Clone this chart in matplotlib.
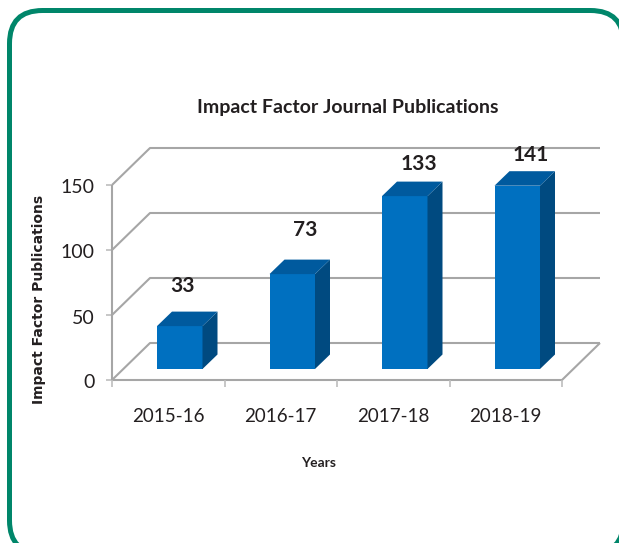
import matplotlib
matplotlib.use('Agg')
import matplotlib.pyplot as plt
from matplotlib.patches import FancyBboxPatch, Polygon
from matplotlib.transforms import ScaledTranslation

categories = ['2015-16', '2016-17', '2017-18', '2018-19']
values = [33, 73, 133, 141]
y_ticks = [0, 50, 100, 150]
title = 'Impact Factor Journal Publications'
x_label = 'Years'
y_label = 'Impact Factor Publications'

W, H = 619, 543
GRID = '#a6a6a6'
TEXT = '#231f20'
FONT = 'Lato'

fig = plt.figure(figsize=(W / 100, H / 100), dpi=100)

# background axes in pixels, just for the green frame
bg = fig.add_axes([0, 0, 1, 1])
bg.set_xlim(0, W)
bg.set_ylim(H, 0)
bg.axis('off')
bg.add_patch(FancyBboxPatch((9.5, 10.5), 614, 543, boxstyle='round,pad=0,rounding_size=33',
                            fc='white', ec='#00866a', lw=3.6))

# main axes sit on the front plane of the 3d box
left, right, bottom, top = 112, 562, 380, 185
ax = fig.add_axes([left / W, 1 - bottom / H, (right - left) / W, (bottom - top) / H])
ax.set_xlim(-0.5, 3.5)
ax.set_ylim(0, 150)
ax.patch.set_alpha(0)
for s in ax.spines.values():
    s.set_visible(False)

px_x = 4 / (right - left)
px_y = 150 / (bottom - top)
wall_dx, wall_dy = 38 * px_x, 37 * px_y   # depth of the whole box
bar_dx, bar_dy = 15 * px_x, 14.5 * px_y   # depth of a bar
off_x, off_y = 45 * px_x, 11 * px_y       # bar front face offset from front plane
bar_w = 45.5 * px_x

line = dict(color=GRID, lw=1.5, clip_on=False, solid_capstyle='butt')
thin = dict(color='#bdbdbd', lw=1.2, clip_on=False, solid_capstyle='butt')

# walls and grid
for t in y_ticks:
    ax.plot([-0.5, -0.5 + wall_dx, 3.5 + wall_dx], [t, t + wall_dy, t + wall_dy], **line)
    ax.plot([-0.5 - 6 * px_x, -0.5], [t, t], **thin)
ax.plot([-0.5, -0.5], [0, 150], **line)
ax.plot([-0.5, 3.5, 3.5 + wall_dx], [0, 0, wall_dy], **line)
for i in range(len(categories) + 1):
    ax.plot([i - 0.5, i - 0.5], [0, -7 * px_y], **thin)

# bars: front, side, top
label_offsets = [(2.5, 40), (13, 44), (14.5, 32), (13.5, 31)]
for i, v in enumerate(values):
    x0 = i - 0.5 + off_x
    x1 = x0 + bar_w
    y0, y1 = off_y, off_y + v
    ax.bar(x0, v, width=bar_w, bottom=y0, align='edge', color='#0070c0', zorder=3, clip_on=False)
    ax.add_patch(Polygon([(x1, y0), (x1 + bar_dx, y0 + bar_dy), (x1 + bar_dx, y1 + bar_dy), (x1, y1)],
                         fc='#004a80', ec='none', zorder=3, clip_on=False))
    ax.add_patch(Polygon([(x0, y1), (x0 + bar_dx, y1 + bar_dy), (x1 + bar_dx, y1 + bar_dy), (x1, y1)],
                         fc='#005a9e', ec='none', zorder=3, clip_on=False))
    dx, dy = label_offsets[i]
    ax.annotate(str(v), ((x0 + x1) / 2, y1), xytext=(dx * 0.72, dy * 0.72), textcoords='offset points',
                ha='center', va='center', family=FONT, fontsize=15, fontweight='bold',
                color=TEXT, zorder=4)

ax.set_xticks(range(len(categories)))
ax.set_xticklabels(categories, family=FONT, fontsize=13.5, color=TEXT)
ax.set_yticks(y_ticks)
ax.set_yticklabels(y_ticks, family=FONT, fontsize=14, color=TEXT)
ax.tick_params(length=0)
ax.tick_params(axis='x', pad=20.5)
ax.tick_params(axis='y', pad=12.5)
for lbl in ax.get_yticklabels():
    lbl.set_transform(lbl.get_transform() + ScaledTranslation(0, -1.5 / 100, fig.dpi_scale_trans))

fig.text(348 / W, 1 - 107 / H, title, ha='center', va='center', family=FONT,
         fontsize=14, fontweight='bold', color=TEXT)
fig.text(319 / W, 1 - 463 / H, x_label, ha='center', va='center', family=FONT,
         fontsize=10, fontweight='bold', color=TEXT)
fig.text(39.5 / W, 1 - 299 / H, y_label, rotation=90, ha='center', va='center',
         family='DejaVu Sans', fontsize=10, fontweight='bold', color=TEXT)

fig.savefig('out.png', dpi=100)
